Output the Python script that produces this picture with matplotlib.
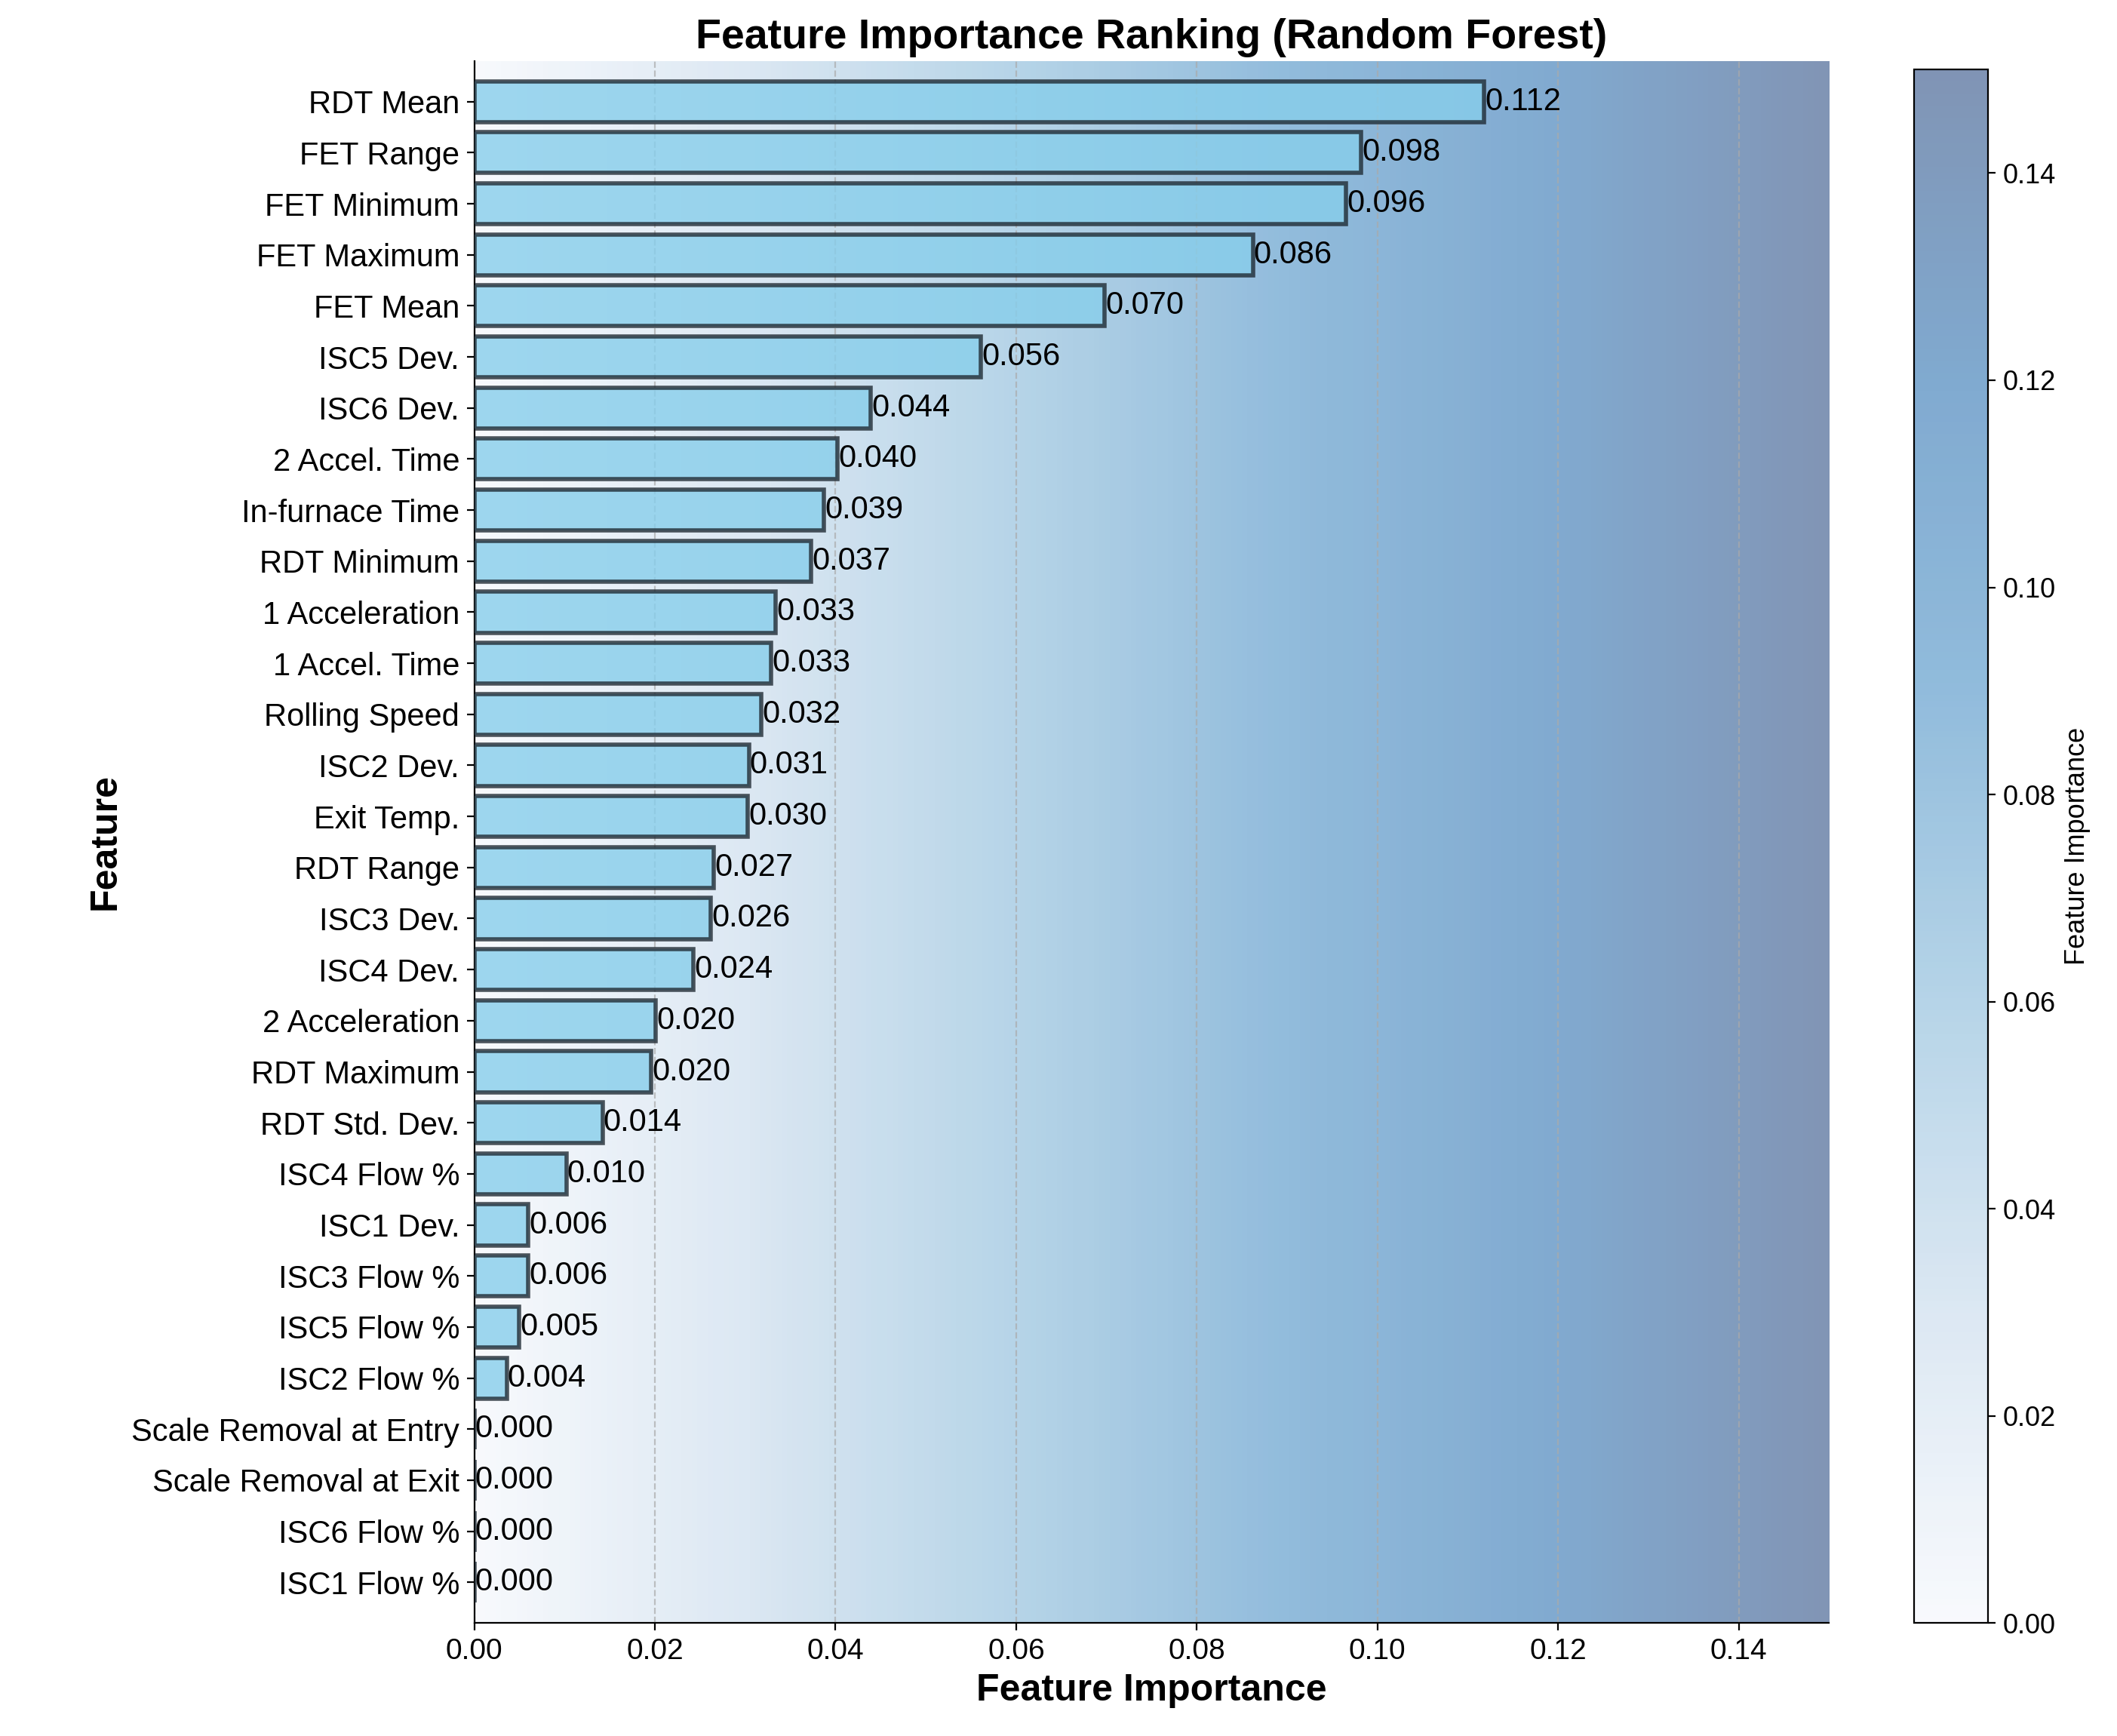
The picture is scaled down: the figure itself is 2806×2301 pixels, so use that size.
import numpy as np
import matplotlib
matplotlib.use("Agg")
import matplotlib.pyplot as plt
from matplotlib.colors import LinearSegmentedColormap, Normalize
import matplotlib.cm as cm

plt.rcParams['font.family'] = ['Liberation Sans', 'DejaVu Sans']

features = ["RDT Mean", "FET Range", "FET Minimum", "FET Maximum", "FET Mean",
            "ISC5 Dev.", "ISC6 Dev.", "2 Accel. Time", "In-furnace Time", "RDT Minimum",
            "1 Acceleration", "1 Accel. Time", "Rolling Speed", "ISC2 Dev.", "Exit Temp.",
            "RDT Range", "ISC3 Dev.", "ISC4 Dev.", "2 Acceleration", "RDT Maximum",
            "RDT Std. Dev.", "ISC4 Flow %", "ISC1 Dev.", "ISC3 Flow %", "ISC5 Flow %",
            "ISC2 Flow %", "Scale Removal at Entry", "Scale Removal at Exit",
            "ISC6 Flow %", "ISC1 Flow %"]
importance = [0.112, 0.098, 0.096, 0.086, 0.070, 0.056, 0.044, 0.040, 0.039, 0.037,
              0.033, 0.033, 0.032, 0.031, 0.030, 0.027, 0.026, 0.024, 0.020, 0.020,
              0.014, 0.010, 0.006, 0.006, 0.005, 0.004, 0.000, 0.000, 0.000, 0.000]
bar_widths = [0.1118, 0.0982, 0.0965, 0.0862, 0.0698, 0.0561, 0.0439, 0.0402, 0.0387, 0.0373,
              0.0334, 0.0329, 0.0318, 0.0304, 0.0303, 0.0265, 0.0262, 0.0243, 0.0201, 0.0196,
              0.0142, 0.0102, 0.0060, 0.0060, 0.0050, 0.0036, 0.0, 0.0, 0.0, 0.0]

cmap = LinearSegmentedColormap.from_list(
    "bg", ["#f7f9fd", "#d6e4f1", "#a9cde4", "#7eb0d6", "#6a9bc8", "#6a82a8"])

fig = plt.figure(figsize=(14.03, 11.505), dpi=200)
ax = fig.add_axes([0.224, 0.065, 0.64, 0.9])
cax = fig.add_axes([0.904, 0.065, 0.035, 0.895])

n = len(features)
y = np.arange(n)[::-1]
ax.imshow(np.linspace(0, 1, 256).reshape(1, -1), cmap=cmap, aspect='auto',
          extent=[0, 0.15, -0.8, n - 0.2], zorder=0, alpha=0.85)
ax.barh(y, bar_widths, height=0.8, color='#87CEEB', alpha=0.8,
        edgecolor='#1f2a33', linewidth=2, zorder=3)
for yi, w, v in zip(y, bar_widths, importance):
    ax.text(w + 0.0001, yi, f"{v:.3f}", va='center', ha='left', fontsize=15, zorder=4)

ax.set_yticks(y)
ax.set_yticklabels(features, fontsize=15)
ax.set_xlim(0, 0.15)
ax.set_ylim(-0.8, n - 0.2)
ax.set_xticks(np.arange(0, 0.15, 0.02))
ax.set_xticklabels([f"{t:.2f}" for t in np.arange(0, 0.15, 0.02)])
ax.tick_params(axis='x', labelsize=14)
ax.grid(axis='x', linestyle='--', color='#aaaaaa', alpha=0.7, zorder=1)
ax.set_axisbelow(True)
for s in ['top', 'right']:
    ax.spines[s].set_visible(False)
ax.set_xlabel("Feature Importance", fontsize=18, fontweight='bold')
ax.set_ylabel("Feature", fontsize=18, fontweight='bold')
ax.set_title("Feature Importance Ranking (Random Forest)", fontsize=20, fontweight='bold')

sm = cm.ScalarMappable(norm=Normalize(0, 0.15), cmap=cmap)
cb = fig.colorbar(sm, cax=cax, alpha=0.85)
cb.set_ticks(np.arange(0, 0.15, 0.02))
cb.ax.tick_params(labelsize=13)
cb.set_label("Feature Importance", fontsize=13)

fig.savefig("out.png", dpi=200)
